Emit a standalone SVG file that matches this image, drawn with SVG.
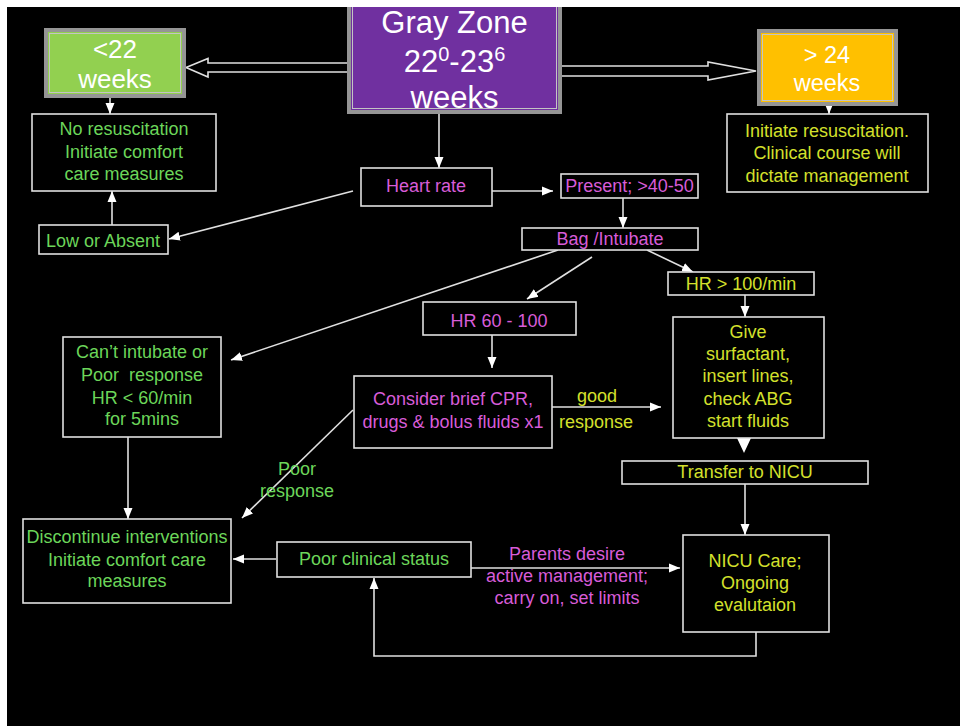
<svg xmlns="http://www.w3.org/2000/svg" width="960" height="726" viewBox="0 0 960 726">
  <style>
    text { font-family: "Liberation Sans", Arial, Helvetica, sans-serif; text-anchor: middle; }
    .box { fill: #000; stroke: #e0e0e0; stroke-width: 1.6; }
    .t { font-size: 18px; }
    .g { fill: #6CD65A; }
    .m { fill: #D85CD8; }
    .y { fill: #D4E02C; }
    .w { fill: #ffffff; }
    .edge { fill: none; stroke: #e0e0e0; stroke-width: 1.6; }
    .big { fill: #000; stroke: #e0e0e0; stroke-width: 1.6; stroke-linejoin: miter; }
    .frame { fill: none; stroke: #959595; stroke-width: 4; }
    .frame2 { fill: none; stroke: #c4c4c4; stroke-width: 1; }
  </style>
  <defs>
    <marker id="ah" markerUnits="userSpaceOnUse" markerWidth="12" markerHeight="12" viewBox="0 0 12 12" refX="11" refY="6" orient="auto">
      <path d="M0,1.5 L11,6 L0,10.5 Z" fill="#ffffff"/>
    </marker>
    <clipPath id="page">
      <rect x="7" y="7" width="953" height="719"/>
    </clipPath>
  </defs>

  <!-- page -->
  <rect x="0" y="0" width="960" height="726" fill="#ffffff"/>
  <rect x="7" y="7" width="953" height="719" fill="#000000"/>

  <!-- connectors -->
  <g id="connectors">
    <!-- hollow block arrows out of the gray zone -->
    <polygon class="big" points="348,63 208,63 208,58.5 186,67.5 208,77 208,72 348,72"/>
    <polygon class="big" points="561,66 708,66 708,62 756,71 708,80 708,76 561,76"/>

    <line class="edge" x1="110" y1="97" x2="110" y2="114" marker-end="url(#ah)"/>
    <line class="edge" x1="829" y1="105" x2="829" y2="114" marker-end="url(#ah)"/>
    <line class="edge" x1="439" y1="113" x2="439" y2="168" marker-end="url(#ah)"/>
    <line class="edge" x1="353" y1="191" x2="169" y2="239" marker-end="url(#ah)"/>
    <line class="edge" x1="112" y1="225" x2="112" y2="191" marker-end="url(#ah)"/>
    <line class="edge" x1="492" y1="191" x2="553" y2="191" marker-end="url(#ah)"/>
    <line class="edge" x1="623" y1="198" x2="623" y2="228" marker-end="url(#ah)"/>
    <line class="edge" x1="558" y1="250" x2="231" y2="360" marker-end="url(#ah)"/>
    <line class="edge" x1="592" y1="257" x2="527" y2="299" marker-end="url(#ah)"/>
    <line class="edge" x1="647" y1="250" x2="693" y2="272" marker-end="url(#ah)"/>
    <line class="edge" x1="745" y1="295" x2="745" y2="317" marker-end="url(#ah)"/>
    <line class="edge" x1="492" y1="335" x2="492" y2="368" marker-end="url(#ah)"/>
    <line class="edge" x1="552" y1="407" x2="661" y2="407" marker-end="url(#ah)"/>
    <line class="edge" x1="353" y1="410" x2="242" y2="518" marker-end="url(#ah)"/>
    <line class="edge" x1="128" y1="437" x2="128" y2="519" marker-end="url(#ah)"/>
    <!-- large head into the transfer box -->
    <line class="edge" x1="744" y1="432" x2="744" y2="440"/>
    <path d="M737,438 L751,438 L744,453 Z" fill="#ffffff"/>
    <line class="edge" x1="745" y1="484" x2="745" y2="535" marker-end="url(#ah)"/>
    <polyline class="edge" points="756,632 756,656 374,656 374,578" marker-end="url(#ah)"/>
    <line class="edge" x1="471" y1="568" x2="680" y2="568" marker-end="url(#ah)"/>
    <line class="edge" x1="276" y1="559" x2="233" y2="559" marker-end="url(#ah)"/>

    <!-- edge labels -->
    <text class="t y" x="597" y="402">good</text>
    <text class="t y" x="596" y="428">response</text>
    <text class="t g" x="297" y="475">Poor</text>
    <text class="t g" x="297" y="497">response</text>
    <text class="t m" x="567" y="560">Parents desire</text>
    <text class="t m" x="567" y="582">active management;</text>
    <text class="t m" x="567" y="604">carry on, set limits</text>
  </g>

  <!-- gestational age boxes -->
  <g id="lt22">
    <rect x="46" y="30" width="138" height="66" fill="#92D050"/>
    <rect class="frame" x="46" y="30" width="138" height="66"/>
    <rect class="frame2" x="49.5" y="33.5" width="131" height="59"/>
    <text class="w" x="115" y="58" font-size="26">&lt;22</text>
    <text class="w" x="115" y="88" font-size="26">weeks</text>
  </g>

  <!-- the top of this box runs off the page edge -->
  <g id="grayzone" clip-path="url(#page)">
    <rect x="349" y="0" width="211" height="112" fill="#7030A0"/>
    <rect class="frame" x="349" y="-4" width="211" height="116"/>
    <rect class="frame2" x="352.5" y="-4" width="204" height="112.5"/>
    <text class="w" x="454.5" y="33" font-size="31">Gray Zone</text>
    <text class="w" x="454.5" y="72" font-size="31">22<tspan font-size="20" dy="-11">0</tspan><tspan dy="11">-23</tspan><tspan font-size="20" dy="-11">6</tspan></text>
    <text class="w" x="454.5" y="108" font-size="31">weeks</text>
  </g>

  <g id="gt24">
    <rect x="759" y="31" width="137" height="73" fill="#FFC000"/>
    <rect class="frame" x="759" y="31" width="137" height="73"/>
    <rect class="frame2" x="762.5" y="34.5" width="130" height="66"/>
    <text class="w" x="827" y="63" font-size="23.5">&gt; 24</text>
    <text class="w" x="827" y="91" font-size="23.5">weeks</text>
  </g>

  <!-- flow boxes -->
  <g id="no-resus">
    <rect class="box" x="32" y="114" width="184" height="77"/>
    <text class="t g" x="124" y="135">No resuscitation</text>
    <text class="t g" x="124" y="158">Initiate comfort</text>
    <text class="t g" x="124" y="180">care measures</text>
  </g>

  <g id="initiate">
    <rect class="box" x="727" y="114" width="201" height="78"/>
    <text class="t y" x="827" y="137">Initiate resuscitation.</text>
    <text class="t y" x="827" y="159">Clinical course will</text>
    <text class="t y" x="827" y="182">dictate management</text>
  </g>

  <g id="heart-rate">
    <rect class="box" x="361" y="168" width="131" height="38"/>
    <text class="t m" x="426" y="192">Heart rate</text>
  </g>

  <g id="low-absent">
    <rect class="box" x="39" y="225" width="129" height="29"/>
    <text class="t g" x="103" y="247">Low or Absent</text>
  </g>

  <g id="present">
    <rect class="box" x="561" y="174" width="137" height="24"/>
    <text class="t m" x="629.5" y="192">Present; &gt;40-50</text>
  </g>

  <g id="bag">
    <rect class="box" x="522" y="228" width="176" height="22"/>
    <text class="t m" x="610" y="245">Bag /Intubate</text>
  </g>

  <g id="hr-60-100">
    <rect class="box" x="423" y="302" width="153" height="33"/>
    <text class="t m" x="499" y="327">HR 60 - 100</text>
  </g>

  <g id="hr-100">
    <rect class="box" x="668" y="272" width="146" height="23"/>
    <text class="t y" x="741" y="290">HR &gt; 100/min</text>
  </g>

  <g id="cant-intubate">
    <rect class="box" x="63" y="337" width="158" height="100"/>
    <text class="t g" x="142" y="358">Can’t intubate or</text>
    <text class="t g" x="142" y="381">Poor&#160; response</text>
    <text class="t g" x="142" y="404">HR &lt; 60/min</text>
    <text class="t g" x="142" y="425">for 5mins</text>
  </g>

  <g id="consider">
    <rect class="box" x="354" y="376" width="198" height="72"/>
    <text class="t m" x="453" y="405">Consider brief CPR,</text>
    <text class="t m" x="453" y="428">drugs &amp; bolus fluids x1</text>
  </g>

  <g id="give">
    <rect class="box" x="673" y="317" width="151" height="121"/>
    <text class="t y" x="748" y="338">Give</text>
    <text class="t y" x="748" y="360">surfactant,</text>
    <text class="t y" x="748" y="382">insert lines,</text>
    <text class="t y" x="748" y="405">check ABG</text>
    <text class="t y" x="748" y="427">start fluids</text>
  </g>

  <g id="transfer">
    <rect class="box" x="622" y="461" width="246" height="23"/>
    <text class="t y" x="745" y="478">Transfer to NICU</text>
  </g>

  <g id="discontinue">
    <rect class="box" x="23" y="519" width="208" height="84"/>
    <text class="t g" x="127" y="543">Discontinue interventions</text>
    <text class="t g" x="127" y="566">Initiate comfort care</text>
    <text class="t g" x="127" y="587">measures</text>
  </g>

  <g id="poor-clinical">
    <rect class="box" x="277" y="542" width="194" height="35"/>
    <text class="t g" x="374" y="565">Poor clinical status</text>
  </g>

  <g id="nicu-care">
    <rect class="box" x="683" y="535" width="146" height="97"/>
    <text class="t y" x="755" y="567">NICU Care;</text>
    <text class="t y" x="755" y="589">Ongoing</text>
    <text class="t y" x="755" y="611">evalutaion</text>
  </g>
</svg>
